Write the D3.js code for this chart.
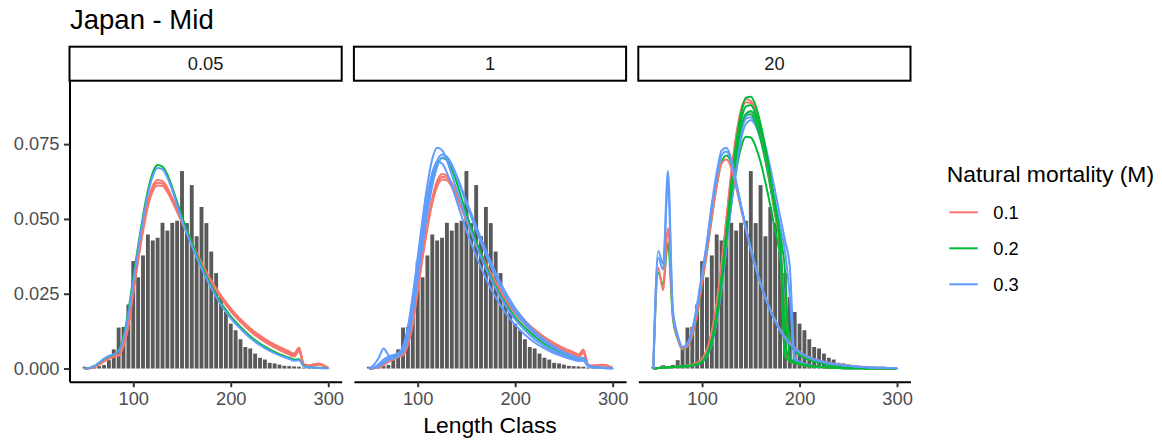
<!DOCTYPE html>
<html>
<head>
<meta charset="utf-8">
<script src="https://cdnjs.cloudflare.com/ajax/libs/d3/7.8.5/d3.min.js"></script>
<style>
body { margin: 0; background: #fff; }
text { font-family: "Liberation Sans", Arial, sans-serif; }
</style>
</head>
<body>
<script>
// observed length composition (same histogram in every facet)
const lengthBins = [50,55,60,65,70,75,80,85,90,95,100,105,110,115,120,125,130,135,140,145,150,155,160,165,170,175,180,185,190,195,200,205,210,215,220,225,230,235,240,245,250,255,260,265,270,275,280,285,290,295,300];
const observed = [0.0006,0.0005,0.0011,0.0008,0.0012,0.0028,0.0064,0.0137,0.0139,0.0214,0.0359,0.0305,0.0378,0.0448,0.0428,0.0437,0.0487,0.0461,0.0487,0.0494,0.0660,0.0486,0.0613,0.0442,0.0540,0.0486,0.0391,0.0319,0.0239,0.0189,0.0150,0.0128,0.0098,0.0072,0.0067,0.0050,0.0036,0.0030,0.0019,0.0017,0.0013,0.0009,0.0008,0.0007,0.0006,0.0003,0.0002,0.0002,0.0002,0.0001,0.0001];

// lengths at which the predicted curves are read
const curveLengths = [50,55,60,65,70,75,80,85,90,95,100,105,110,115,120,125,130,135,140,145,150,155,160,165,170,175,180,185,190,195,200,210,220,230,240,250,260,265,270,275,280,290,300];

const facets = ["0.05", "1", "20"];
const mortality = ["0.1", "0.2", "0.3"];
const mColours = ["#F8766D", "#00BA38", "#619CFF"];
const xTicks = [100, 200, 300];
const yTicks = [0, 0.025, 0.05, 0.075];

// facet 0.05
const f1RedA = [0.0000,0.0001,0.0005,0.0014,0.0025,0.0034,0.0040,0.0045,0.0080,0.0150,0.0262,0.0372,0.0472,0.0557,0.0610,0.0630,0.0626,0.0604,0.0570,0.0533,0.0495,0.0458,0.0422,0.0387,0.0354,0.0323,0.0295,0.0268,0.0244,0.0222,0.0201,0.0165,0.0135,0.0110,0.0089,0.0072,0.0057,0.0050,0.0070,0.0015,0.0011,0.0017,0.0002];
const f1RedC = [0.0000,0.0001,0.0005,0.0013,0.0024,0.0033,0.0040,0.0044,0.0078,0.0147,0.0257,0.0366,0.0465,0.0549,0.0602,0.0621,0.0618,0.0597,0.0564,0.0528,0.0491,0.0455,0.0419,0.0385,0.0352,0.0321,0.0292,0.0265,0.0240,0.0217,0.0196,0.0160,0.0130,0.0105,0.0084,0.0067,0.0052,0.0045,0.0064,0.0013,0.0010,0.0015,0.0002];
const f1RedB = [0.0000,0.0001,0.0005,0.0013,0.0024,0.0033,0.0039,0.0043,0.0076,0.0143,0.0252,0.0360,0.0458,0.0541,0.0593,0.0612,0.0610,0.0590,0.0558,0.0523,0.0487,0.0451,0.0416,0.0382,0.0349,0.0317,0.0288,0.0261,0.0236,0.0213,0.0191,0.0155,0.0125,0.0100,0.0079,0.0062,0.0047,0.0040,0.0058,0.0011,0.0009,0.0013,0.0002];
const f1Green = [0.0000,0.0002,0.0008,0.0019,0.0031,0.0040,0.0046,0.0060,0.0108,0.0192,0.0305,0.0410,0.0510,0.0595,0.0655,0.0680,0.0675,0.0648,0.0605,0.0556,0.0508,0.0463,0.0421,0.0381,0.0344,0.0309,0.0277,0.0247,0.0220,0.0196,0.0174,0.0139,0.0108,0.0083,0.0064,0.0048,0.0036,0.0030,0.0031,0.0009,0.0005,0.0003,0.0001];
const f1Blue = [0.0000,0.0002,0.0008,0.0020,0.0033,0.0042,0.0047,0.0058,0.0100,0.0180,0.0290,0.0398,0.0498,0.0583,0.0643,0.0670,0.0666,0.0638,0.0596,0.0545,0.0495,0.0452,0.0410,0.0372,0.0335,0.0301,0.0269,0.0240,0.0213,0.0189,0.0168,0.0133,0.0102,0.0078,0.0059,0.0044,0.0032,0.0026,0.0028,0.0007,0.0004,0.0002,0.0001];

// facet 1
const f2RedA = [0.0000,0.0001,0.0005,0.0013,0.0024,0.0033,0.0040,0.0048,0.0085,0.0158,0.0270,0.0382,0.0484,0.0570,0.0627,0.0650,0.0645,0.0620,0.0583,0.0542,0.0500,0.0460,0.0421,0.0384,0.0350,0.0319,0.0290,0.0263,0.0239,0.0217,0.0196,0.0160,0.0130,0.0105,0.0085,0.0068,0.0054,0.0047,0.0064,0.0013,0.0010,0.0013,0.0002];
const f2RedC = [0.0000,0.0001,0.0005,0.0012,0.0023,0.0032,0.0039,0.0046,0.0082,0.0154,0.0264,0.0375,0.0476,0.0561,0.0618,0.0641,0.0637,0.0613,0.0578,0.0538,0.0497,0.0457,0.0419,0.0383,0.0348,0.0316,0.0286,0.0258,0.0233,0.0210,0.0190,0.0154,0.0124,0.0099,0.0079,0.0063,0.0049,0.0042,0.0058,0.0012,0.0009,0.0012,0.0002];
const f2RedB = [0.0000,0.0001,0.0005,0.0012,0.0022,0.0031,0.0038,0.0045,0.0080,0.0150,0.0258,0.0368,0.0468,0.0552,0.0608,0.0632,0.0629,0.0607,0.0573,0.0534,0.0494,0.0455,0.0417,0.0381,0.0346,0.0313,0.0282,0.0253,0.0227,0.0204,0.0184,0.0148,0.0118,0.0093,0.0073,0.0057,0.0043,0.0037,0.0052,0.0011,0.0008,0.0011,0.0002];
const f2Green = [0.0000,0.0002,0.0008,0.0019,0.0031,0.0040,0.0046,0.0062,0.0112,0.0200,0.0318,0.0428,0.0530,0.0618,0.0680,0.0704,0.0697,0.0667,0.0622,0.0570,0.0518,0.0470,0.0425,0.0383,0.0344,0.0308,0.0275,0.0245,0.0218,0.0194,0.0172,0.0137,0.0107,0.0083,0.0064,0.0049,0.0037,0.0031,0.0036,0.0009,0.0005,0.0003,0.0001];
const f2BlueA = [0.0000,0.0012,0.0035,0.0067,0.0045,0.0033,0.0042,0.0060,0.0110,0.0230,0.0370,0.0500,0.0615,0.0700,0.0738,0.0730,0.0695,0.0648,0.0598,0.0548,0.0500,0.0455,0.0412,0.0372,0.0335,0.0300,0.0268,0.0238,0.0211,0.0186,0.0164,0.0128,0.0098,0.0075,0.0057,0.0043,0.0032,0.0027,0.0028,0.0008,0.0004,0.0002,0.0001];
const f2BlueB = [0.0000,0.0003,0.0010,0.0022,0.0034,0.0044,0.0052,0.0070,0.0125,0.0215,0.0330,0.0445,0.0550,0.0640,0.0695,0.0715,0.0708,0.0682,0.0645,0.0603,0.0560,0.0518,0.0476,0.0435,0.0395,0.0357,0.0321,0.0287,0.0256,0.0228,0.0202,0.0160,0.0124,0.0096,0.0073,0.0055,0.0041,0.0034,0.0036,0.0010,0.0006,0.0003,0.0001];
const f2BlueC = [0.0000,0.0003,0.0015,0.0030,0.0040,0.0045,0.0050,0.0075,0.0140,0.0245,0.0365,0.0478,0.0580,0.0655,0.0692,0.0685,0.0655,0.0610,0.0560,0.0510,0.0462,0.0418,0.0376,0.0337,0.0301,0.0268,0.0238,0.0211,0.0187,0.0165,0.0146,0.0113,0.0087,0.0067,0.0051,0.0039,0.0029,0.0025,0.0026,0.0007,0.0004,0.0002,0.0001];
const f2BlueD = [0.0000,0.0002,0.0007,0.0017,0.0028,0.0036,0.0042,0.0055,0.0098,0.0185,0.0300,0.0415,0.0522,0.0612,0.0675,0.0705,0.0702,0.0678,0.0640,0.0595,0.0550,0.0506,0.0463,0.0421,0.0381,0.0343,0.0307,0.0274,0.0243,0.0215,0.0190,0.0149,0.0115,0.0089,0.0068,0.0052,0.0039,0.0033,0.0034,0.0009,0.0005,0.0003,0.0001];

// facet 20: early-peaked runs
const f3RedEarly = [0.0000,0.0338,0.0262,0.0470,0.0180,0.0100,0.0065,0.0074,0.0112,0.0185,0.0285,0.0390,0.0505,0.0610,0.0685,0.0699,0.0670,0.0605,0.0532,0.0462,0.0397,0.0338,0.0285,0.0238,0.0197,0.0162,0.0131,0.0106,0.0086,0.0069,0.0056,0.0038,0.0027,0.0019,0.0014,0.0010,0.0007,0.0006,0.0005,0.0004,0.0003,0.0002,0.0001];
const f3GreenEarly = [0.0000,0.0320,0.0280,0.0420,0.0170,0.0098,0.0064,0.0073,0.0110,0.0182,0.0282,0.0388,0.0505,0.0612,0.0690,0.0712,0.0685,0.0618,0.0543,0.0470,0.0402,0.0341,0.0286,0.0238,0.0196,0.0160,0.0129,0.0104,0.0084,0.0068,0.0055,0.0037,0.0026,0.0018,0.0013,0.0009,0.0006,0.0005,0.0004,0.0003,0.0003,0.0002,0.0001];
const f3BlueEarlyA = [0.0000,0.0393,0.0350,0.0660,0.0200,0.0112,0.0072,0.0085,0.0132,0.0215,0.0320,0.0425,0.0550,0.0655,0.0728,0.0738,0.0700,0.0625,0.0545,0.0470,0.0400,0.0338,0.0283,0.0235,0.0193,0.0158,0.0127,0.0102,0.0082,0.0066,0.0054,0.0036,0.0025,0.0018,0.0013,0.0009,0.0006,0.0005,0.0004,0.0003,0.0003,0.0002,0.0001];
const f3BlueEarlyB = [0.0000,0.0370,0.0330,0.0620,0.0190,0.0108,0.0070,0.0082,0.0128,0.0208,0.0312,0.0415,0.0538,0.0640,0.0712,0.0725,0.0690,0.0618,0.0540,0.0466,0.0398,0.0337,0.0283,0.0236,0.0195,0.0160,0.0129,0.0104,0.0084,0.0068,0.0055,0.0037,0.0026,0.0018,0.0013,0.0009,0.0006,0.0005,0.0004,0.0003,0.0003,0.0002,0.0001];

// facet 20: late-peaked runs
const f3RedLateA = [0.0000,0.0002,0.0003,0.0004,0.0005,0.0006,0.0007,0.0009,0.0012,0.0018,0.0030,0.0060,0.0120,0.0215,0.0345,0.0500,0.0655,0.0780,0.0865,0.0900,0.0895,0.0860,0.0798,0.0718,0.0622,0.0518,0.0410,0.0045,0.0025,0.0018,0.0013,0.0008,0.0005,0.0003,0.0002,0.0001,0.0001,0.0001,0.0000,0.0000,0.0000,0.0000,0.0000];
const f3RedLateB = [0.0000,0.0002,0.0003,0.0004,0.0005,0.0006,0.0008,0.0010,0.0013,0.0020,0.0033,0.0064,0.0125,0.0220,0.0350,0.0500,0.0650,0.0772,0.0855,0.0890,0.0887,0.0853,0.0793,0.0713,0.0620,0.0520,0.0415,0.0175,0.0090,0.0065,0.0050,0.0033,0.0022,0.0015,0.0010,0.0007,0.0005,0.0004,0.0003,0.0003,0.0002,0.0001,0.0000];
const f3GreenLateA = [0.0000,0.0002,0.0003,0.0004,0.0005,0.0006,0.0007,0.0008,0.0010,0.0014,0.0022,0.0045,0.0095,0.0180,0.0305,0.0460,0.0620,0.0755,0.0855,0.0905,0.0908,0.0878,0.0818,0.0738,0.0642,0.0535,0.0425,0.0040,0.0025,0.0018,0.0013,0.0008,0.0005,0.0003,0.0002,0.0001,0.0001,0.0001,0.0000,0.0000,0.0000,0.0000,0.0000];
const f3GreenLateB = [0.0000,0.0002,0.0003,0.0004,0.0005,0.0006,0.0007,0.0008,0.0010,0.0015,0.0024,0.0048,0.0098,0.0182,0.0302,0.0450,0.0603,0.0733,0.0828,0.0876,0.0880,0.0852,0.0796,0.0720,0.0630,0.0528,0.0422,0.0090,0.0030,0.0020,0.0015,0.0009,0.0006,0.0004,0.0002,0.0001,0.0001,0.0001,0.0000,0.0000,0.0000,0.0000,0.0000];
const f3GreenLateC = [0.0000,0.0002,0.0003,0.0004,0.0005,0.0006,0.0007,0.0009,0.0012,0.0018,0.0028,0.0052,0.0102,0.0185,0.0300,0.0440,0.0585,0.0710,0.0800,0.0845,0.0850,0.0822,0.0768,0.0695,0.0608,0.0512,0.0410,0.0160,0.0085,0.0060,0.0045,0.0029,0.0019,0.0012,0.0008,0.0005,0.0003,0.0003,0.0002,0.0002,0.0001,0.0001,0.0000];
const f3GreenLateD = [0.0000,0.0002,0.0003,0.0004,0.0005,0.0006,0.0008,0.0010,0.0013,0.0020,0.0032,0.0058,0.0108,0.0188,0.0295,0.0420,0.0548,0.0660,0.0740,0.0775,0.0772,0.0742,0.0690,0.0622,0.0545,0.0462,0.0378,0.0200,0.0100,0.0068,0.0050,0.0032,0.0021,0.0013,0.0009,0.0006,0.0004,0.0003,0.0002,0.0002,0.0001,0.0001,0.0000];
const f3GreenLateE = [0.0000,0.0002,0.0003,0.0004,0.0005,0.0006,0.0007,0.0008,0.0010,0.0014,0.0022,0.0042,0.0088,0.0168,0.0285,0.0430,0.0580,0.0710,0.0805,0.0852,0.0860,0.0838,0.0790,0.0722,0.0640,0.0548,0.0450,0.0330,0.0035,0.0022,0.0016,0.0010,0.0006,0.0004,0.0002,0.0001,0.0001,0.0001,0.0000,0.0000,0.0000,0.0000,0.0000];
const f3BlueLateA = [0.0000,0.0002,0.0003,0.0004,0.0005,0.0006,0.0007,0.0008,0.0010,0.0014,0.0021,0.0040,0.0082,0.0158,0.0270,0.0410,0.0558,0.0690,0.0790,0.0845,0.0860,0.0845,0.0805,0.0745,0.0672,0.0592,0.0510,0.0430,0.0340,0.0040,0.0022,0.0012,0.0007,0.0004,0.0002,0.0001,0.0001,0.0001,0.0000,0.0000,0.0000,0.0000,0.0000];
const f3BlueLateB = [0.0000,0.0002,0.0003,0.0004,0.0005,0.0006,0.0007,0.0008,0.0010,0.0014,0.0022,0.0042,0.0085,0.0160,0.0270,0.0405,0.0545,0.0670,0.0765,0.0818,0.0830,0.0812,0.0770,0.0710,0.0638,0.0558,0.0476,0.0395,0.0240,0.0030,0.0018,0.0010,0.0006,0.0004,0.0002,0.0001,0.0001,0.0001,0.0000,0.0000,0.0000,0.0000,0.0000];
const f3BlueLateC = [0.0000,0.0002,0.0003,0.0004,0.0005,0.0006,0.0007,0.0009,0.0012,0.0018,0.0028,0.0052,0.0100,0.0180,0.0292,0.0430,0.0572,0.0698,0.0790,0.0835,0.0840,0.0815,0.0765,0.0695,0.0612,0.0520,0.0425,0.0210,0.0095,0.0065,0.0048,0.0030,0.0020,0.0013,0.0009,0.0006,0.0004,0.0003,0.0002,0.0002,0.0001,0.0001,0.0000];

// which runs go in which facet (drawing order), with their M level (index into mortality)
const facetRuns = [
	[[0, f1RedA], [0, f1RedC], [0, f1RedB], [1, f1Green], [2, f1Blue]],
	[[0, f2RedA], [0, f2RedC], [0, f2RedB], [1, f2Green], [2, f2BlueA], [2, f2BlueB], [2, f2BlueC], [2, f2BlueD]],
	[[2, f3BlueLateC], [1, f3GreenLateD], [2, f3BlueLateB], [0, f3RedLateB], [1, f3GreenLateC],
	 [2, f3BlueLateA], [1, f3GreenLateE], [0, f3RedLateA], [1, f3GreenLateB], [1, f3GreenLateA],
	 [1, f3GreenEarly], [0, f3RedEarly], [2, f3BlueEarlyB], [2, f3BlueEarlyA]]
];

const width = 1162, height = 441;
const panelW = 272.2, panelStep = 284.4, panelLeft = 69.5;
const panelTop = 80.7, panelBottom = 381.7, stripTop = 46.7;

const svg = d3.select("body")
	.append("svg")
	.attr("width", width)
	.attr("height", height);

const y = d3.scaleLinear().domain([-0.0044, 0.0962]).range([panelBottom, panelTop]);

svg.append("text")
	.attr("x", 70).attr("y", 29.3)
	.attr("font-size", 27.5)
	.attr("fill", "#000")
	.text("Japan - Mid");

facets.forEach((f, i) => {
	const x0 = panelLeft + i * panelStep;
	const x = d3.scaleLinear().domain([34.6, 313.8]).range([x0, x0 + panelW]);
	const g = svg.append("g");

	// strip
	g.append("rect")
		.attr("x", x0).attr("y", stripTop)
		.attr("width", panelW).attr("height", panelTop - stripTop)
		.attr("fill", "#fff").attr("stroke", "#000").attr("stroke-width", 2);
	g.append("text")
		.attr("x", x0 + panelW / 2).attr("y", (stripTop + panelTop) / 2)
		.attr("dy", "0.36em")
		.attr("text-anchor", "middle")
		.attr("font-size", 18.3)
		.attr("fill", "#1A1A1A")
		.text(f);

	// observed bars
	g.selectAll("rect.bar")
		.data(lengthBins)
		.join("rect")
		.attr("class", "bar")
		.attr("x", d => x(d - 2.5) + 0.5)
		.attr("width", d => x(d + 2.5) - x(d - 2.5) - 1)
		.attr("y", (d, j) => y(observed[j]))
		.attr("height", (d, j) => y(0) - y(observed[j]))
		.attr("fill", "#595959");

	// predicted curves
	const line = d3.line()
		.x((d, j) => x(curveLengths[j]))
		.y(d => y(d))
		.curve(d3.curveMonotoneX);
	g.selectAll("path.run")
		.data(facetRuns[i])
		.join("path")
		.attr("class", "run")
		.attr("d", d => line(d[1]))
		.attr("fill", "none")
		.attr("stroke", d => mColours[d[0]])
		.attr("stroke-width", 2)
		.attr("stroke-linejoin", "round");

	// x axis
	const ax = g.append("g")
		.attr("transform", `translate(0,${panelBottom})`)
		.call(d3.axisBottom(x).tickValues(xTicks).tickSize(5.5).tickSizeOuter(0).tickPadding(5));
	ax.select(".domain").attr("stroke", "#000").attr("stroke-width", 2);
	ax.selectAll(".tick line").attr("stroke", "#333").attr("stroke-width", 2);
	ax.selectAll(".tick text")
		.attr("font-size", 18.3).attr("fill", "#4D4D4D")
		.attr("font-family", "Liberation Sans, Arial, sans-serif");

	if (i == 0) {
		const ay = g.append("g")
			.attr("transform", `translate(${x0},0)`)
			.call(d3.axisLeft(y).tickValues(yTicks).tickFormat(d3.format(".3f")).tickSize(5.5).tickSizeOuter(0).tickPadding(4.5));
		ay.select(".domain").attr("stroke", "#000").attr("stroke-width", 2);
		ay.selectAll(".tick line").attr("stroke", "#333").attr("stroke-width", 2);
		ay.selectAll(".tick text")
			.attr("font-size", 18.3).attr("fill", "#4D4D4D")
			.attr("font-family", "Liberation Sans, Arial, sans-serif");
	}
});

svg.append("text")
	.attr("x", panelLeft + (2 * panelStep + panelW) / 2).attr("y", 433.3)
	.attr("text-anchor", "middle")
	.attr("font-size", 22.9)
	.text("Length Class");

// legend
svg.append("text")
	.attr("x", 946.7).attr("y", 181.7)
	.attr("font-size", 22.9)
	.text("Natural mortality (M)");

const legendY = d3.scalePoint().domain(mortality).range([212.3, 284.3]);
const leg = svg.selectAll("g.key")
	.data(mortality)
	.join("g")
	.attr("class", "key")
	.attr("transform", d => `translate(0,${legendY(d)})`);
leg.append("line")
	.attr("x1", 949.3).attr("x2", 977.7)
	.attr("stroke", (d, i) => mColours[i])
	.attr("stroke-width", 2);
leg.append("text")
	.attr("x", 993.3).attr("dy", "0.36em")
	.attr("font-size", 18.3)
	.attr("fill", "#000")
	.text(d => d);
</script>
</body>
</html>
